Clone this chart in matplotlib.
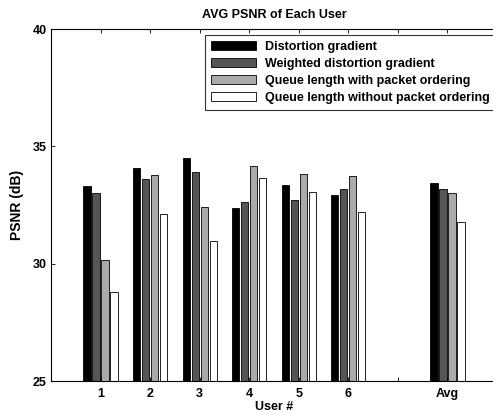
import numpy as np
import matplotlib.pyplot as plt

plt.rcParams['font.family'] = ['Liberation Sans', 'DejaVu Sans']
plt.rcParams['font.weight'] = 'bold'

# values
groups = ["1", "2", "3", "4", "5", "6", "", "Avg"]
series_names = [
    "Distortion gradient",
    "Weighted distortion gradient",
    "Queue length with packet ordering",
    "Queue length without packet ordering",
]
dist_grad = [33.31, 34.08, 34.52, 32.39, 33.35, 32.91, np.nan, 33.44]
weighted_grad = [33.00, 33.59, 33.91, 32.61, 32.71, 33.18, np.nan, 33.17]
queue_order = [30.16, 33.77, 32.43, 34.16, 33.81, 33.74, np.nan, 33.01]
queue_no_order = [28.78, 32.10, 30.98, 33.66, 33.04, 32.20, np.nan, 31.79]
colors = ["#000000", "#555555", "#aaaaaa", "#ffffff"]

all_series = [dist_grad, weighted_grad, queue_order, queue_no_order]

fig = plt.figure(figsize=(4.93, 4.15), dpi=100)
# axes run a bit past the right edge, as in the reference
ax = fig.add_axes([51 / 493, 1 - 381 / 415, 446 / 493, 352 / 415])

x = np.arange(1, len(groups) + 1)
n = len(all_series)
group_w = min(0.8, n / (n + 1.5))
step = group_w / n
bar_w = 0.8 * step
for i, (vals, name, c) in enumerate(zip(all_series, series_names, colors)):
    off = (i - (n - 1) / 2) * step
    v = np.array(vals, dtype=float)
    ax.bar(x + off, v - 25, bottom=25, width=bar_w, color=c,
           edgecolor="black", linewidth=0.6, label=name)

ax.set_xlim(0, 9)
ax.set_ylim(25, 40)
ax.set_xticks(x)
ax.set_xticklabels(groups)
ax.set_yticks([25, 30, 35, 40])
ax.tick_params(direction="in", top=True, right=True, length=3, labelsize=9,
               width=0.6, pad=3)
ax.tick_params(axis="x", pad=5)
for s in ax.spines.values():
    s.set_linewidth(0.8)

ax.set_title("AVG PSNR of Each User", fontsize=9, fontweight="bold", pad=8)
ax.set_xlabel("User #", fontsize=9, fontweight="bold", labelpad=1)
ax.set_ylabel("PSNR (dB)", fontsize=10, fontweight="bold", labelpad=6)

leg = ax.legend(loc="upper left", bbox_to_anchor=(205 / 493, 1 - 35 / 415),
                bbox_transform=fig.transFigure, fontsize=9, frameon=True,
                fancybox=False, edgecolor="black", borderaxespad=0,
                handlelength=3.6, handleheight=0.75, handletextpad=0.7,
                labelspacing=0.38, borderpad=0.5)
leg.get_frame().set_linewidth(0.8)

fig.savefig("out.png", dpi=100)
